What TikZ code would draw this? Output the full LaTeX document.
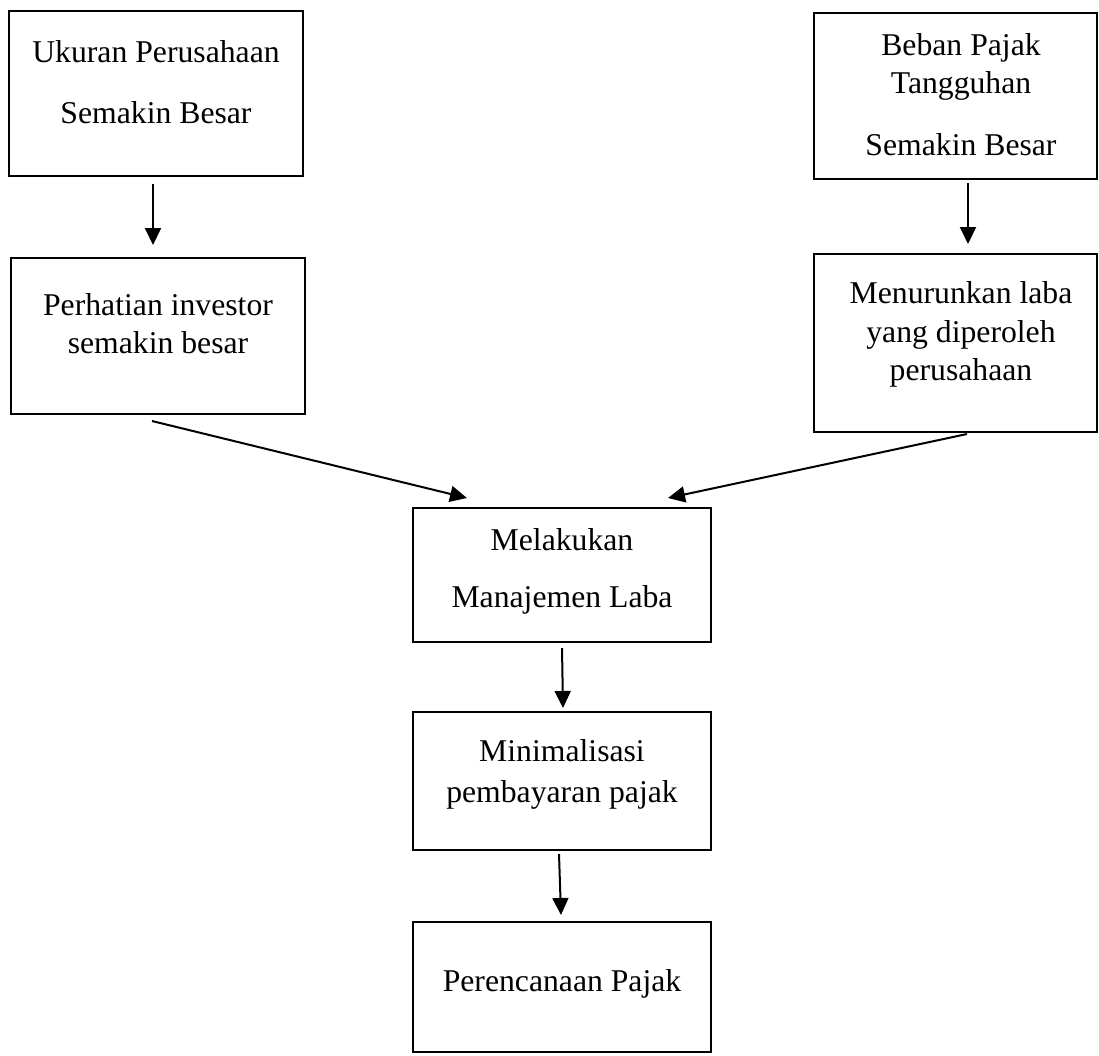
\documentclass[tikz,border=0pt]{standalone}
\usepackage{fontspec}
\setmainfont{Liberation Serif}
\usetikzlibrary{arrows.meta}
\tikzstyle{block}=[rectangle,draw=black,line width=2pt,inner sep=0mm]
\tikzstyle{txt}=[inner sep=0mm,anchor=base,font=\fontsize{31.7}{38}\selectfont]
\tikzstyle{arrow}=[-{Triangle[length=17pt,width=16pt]},line width=2pt]
\tikzset{every picture/.style={
    x=1pt,y=1pt
  }
}

\begin{document}
\begin{tikzpicture}
      \useasboundingbox (0,0) rectangle (1099,-1055);
      \node[block, minimum width=294pt, minimum height=165pt] at (156,-93.5) (ukuran) {};
      \node[txt] at (156,-62) (ukuran1) {Ukuran Perusahaan};
      \node[txt] at (156,-123) (ukuran2) {Semakin Besar};
      \node[block, minimum width=294pt, minimum height=156pt] at (158,-336) (investor) {};
      \node[txt] at (158,-315) (investor1) {Perhatian investor};
      \node[txt] at (158,-353) (investor2) {semakin besar};
      \draw[arrow] ([shift={(-3,-7)}]ukuran.south) -- ([shift={(-5,12)}]investor.north);
      \node[block, minimum width=283pt, minimum height=166pt] at (955.5,-96) (beban) {};
      \node[txt] at (961,-55) (beban1) {Beban Pajak};
      \node[txt] at (961,-93) (beban2) {Tangguhan};
      \node[txt] at (961,-155) (beban3) {Semakin Besar};
      \node[block, minimum width=283pt, minimum height=178pt] at (955.5,-343) (laba) {};
      \node[txt] at (961,-303) (laba1) {Menurunkan laba};
      \node[txt] at (961,-342) (laba2) {yang diperoleh};
      \node[txt] at (961,-380) (laba3) {perusahaan};
      \draw[arrow] ([shift={(12.5,-3)}]beban.south) -- ([shift={(12.5,9)}]laba.north);
      \node[block, minimum width=298pt, minimum height=134pt] at (562,-575) (manajemen) {};
      \node[txt] at (562,-550) (manajemen1) {Melakukan};
      \node[txt] at (562,-607) (manajemen2) {Manajemen Laba};
      \draw[arrow] ([shift={(-6,-6)}]investor.south) -- ([shift={(-95,9)}]manajemen.north);
      \draw[arrow] ([shift={(11.5,-1)}]laba.south) -- ([shift={(106,9)}]manajemen.north);
      \node[block, minimum width=298pt, minimum height=138pt] at (562,-781) (minimal) {};
      \node[txt] at (562,-761) (minimal1) {Minimalisasi};
      \node[txt] at (562,-802) (minimal2) {pembayaran pajak};
      \draw[arrow] ([shift={(0,-5)}]manajemen.south) -- ([shift={(1,3)}]minimal.north);
      \node[block, minimum width=298pt, minimum height=130pt] at (562,-987) (rencana) {};
      \node[txt] at (562,-991) (rencana1) {Perencanaan Pajak};
      \draw[arrow] ([shift={(-3,-3)}]minimal.south) -- ([shift={(-1,6)}]rencana.north);
\end{tikzpicture}
\end{document}
